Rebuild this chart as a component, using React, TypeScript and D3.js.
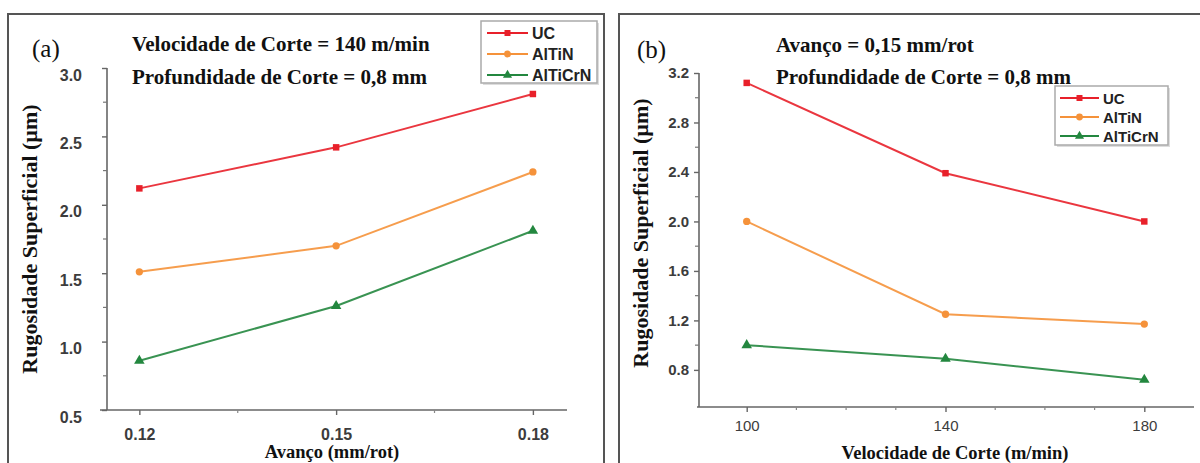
import React, { useEffect, useRef } from "react";
import * as d3 from "d3";

// ---- data ----
const feedRates = [0.12, 0.15, 0.18];
const cuttingSpeeds = [100, 140, 180];
const seriesNames = ["UC", "AlTiN", "AlTiCrN"];

// panel (a): roughness vs feed
const ucA = [2.12, 2.42, 2.81];
const altinA = [1.51, 1.7, 2.24];
const alticrnA = [0.86, 1.26, 1.81];

// panel (b): roughness vs cutting speed
const ucB = [3.12, 2.39, 2.0];
const altinB = [2.0, 1.25, 1.17];
const alticrnB = [1.0, 0.89, 0.72];

const yTicksA = [0.5, 1.0, 1.5, 2.0, 2.5, 3.0];
const yMinorA = [0.75, 1.25, 1.75, 2.25, 2.75];
const xTicksA = [0.12, 0.15, 0.18];
const xMinorA = [0.135, 0.165];

const yTicksB = [0.8, 1.2, 1.6, 2.0, 2.4, 2.8, 3.2];
const yMinorB = [1.0, 1.4, 1.8, 2.2, 2.6, 3.0];
const xTicksB = [100, 140, 180];
const xMinorB = [110, 120, 130, 150, 160, 170];

const colors = ["#e8202a", "#f5923a", "#23873f"];
const markers = [d3.symbolSquare, d3.symbolCircle, d3.symbolTriangle];

const serif = "'Liberation Serif', 'Times New Roman', serif";
const sans = "'Liberation Sans', Arial, sans-serif";

function drawPanel(svg, p) {
  const x = d3.scaleLinear().domain(p.xDomain).range(p.xRange);
  const y = d3.scaleLinear().domain(p.yDomain).range(p.yRange);

  // frame
  svg.append("rect")
    .attr("x", p.frame[0]).attr("y", p.frame[1])
    .attr("width", p.frame[2]).attr("height", p.frame[3])
    .attr("fill", "#fff").attr("stroke", "#555").attr("stroke-width", 2);

  const g = svg.append("g");

  // y axis
  const yAx = g.append("g")
    .attr("transform", `translate(${p.yAxisX},0)`)
    .call(d3.axisLeft(y).tickValues(p.yTicks).tickSize(5).tickPadding(p.yPad)
      .tickFormat(d3.format(".1f")).tickSizeOuter(0));
  yAx.select("path.domain").attr("stroke", "#666").attr("stroke-width", 1.6)
    .attr("d", `M0,${y(p.yTicks[p.yTicks.length - 1])}V${p.yRange[0]}`);
  yAx.selectAll(".tick line").attr("stroke", "#666").attr("stroke-width", 1.4);
  yAx.selectAll(".tick text")
    .attr("font-family", sans).attr("font-weight", "bold")
    .attr("font-size", p.tickFont).attr("fill", "#3c3c3c")
    .attr("dy", p.yLabelDy);
  g.append("g")
    .attr("transform", `translate(${p.yAxisX},0)`)
    .selectAll("line").data(p.yMinor).join("line")
    .attr("x1", -4).attr("x2", 0)
    .attr("y1", d => y(d)).attr("y2", d => y(d))
    .attr("stroke", "#777").attr("stroke-width", 1.2);

  // x axis
  const xAx = g.append("g")
    .attr("transform", `translate(0,${p.yRange[0]})`)
    .call(d3.axisBottom(x).tickValues(p.xTicks).tickSize(5).tickPadding(p.xPad)
      .tickFormat(p.xFormat).tickSizeOuter(0));
  xAx.select("path.domain").attr("stroke", "#666").attr("stroke-width", 1.6)
    .attr("d", `M${p.xAxisStart},0H${p.xAxisEnd}`);
  xAx.selectAll(".tick line").attr("stroke", "#666").attr("stroke-width", 1.4);
  xAx.selectAll(".tick text")
    .attr("font-family", sans).attr("font-weight", p.xTickWeight)
    .attr("font-size", p.tickFont).attr("fill", "#3c3c3c");
  g.append("g")
    .attr("transform", `translate(0,${p.yRange[0]})`)
    .selectAll("line").data(p.xMinor).join("line")
    .attr("x1", d => x(d)).attr("x2", d => x(d))
    .attr("y1", 0).attr("y2", 3)
    .attr("stroke", "#888").attr("stroke-width", 1.2);

  // series
  const line = d3.line().x(d => x(d[0])).y(d => y(d[1]));
  p.series.forEach((vals, i) => {
    const pts = p.xVals.map((v, j) => [v, vals[j]]);
    g.append("path").attr("d", line(pts))
      .attr("fill", "none").attr("stroke", colors[i]).attr("stroke-width", 2)
      .attr("stroke-opacity", 0.9);
    g.selectAll(null).data(pts).join("path")
      .attr("transform", d => `translate(${x(d[0])},${y(d[1])})`)
      .attr("d", d3.symbol(markers[i], i === 2 ? 48 : 42)())
      .attr("fill", colors[i]);
  });

  // panel label and annotations
  svg.append("text").attr("x", p.tag[0]).attr("y", p.tag[1])
    .attr("font-family", serif).attr("font-size", 25).attr("fill", "#111")
    .text(p.tagText);
  p.notes.forEach((t, i) => {
    svg.append("text").attr("x", p.noteX).attr("y", p.noteY[i])
      .attr("font-family", serif).attr("font-weight", "bold")
      .attr("font-size", 21).attr("fill", "#111").text(t);
  });

  // axis titles
  svg.append("text")
    .attr("transform", `translate(${p.yTitle[0]},${p.yTitle[1]}) rotate(-90)`)
    .attr("text-anchor", "middle").attr("dominant-baseline", "central")
    .attr("font-family", serif).attr("font-weight", "bold")
    .attr("font-size", 22).attr("fill", "#111")
    .text("Rugosidade Superficial (µm)");
  svg.append("text")
    .attr("x", p.xTitle[0]).attr("y", p.xTitle[1])
    .attr("text-anchor", "middle").attr("dominant-baseline", "central")
    .attr("font-family", serif).attr("font-weight", "bold")
    .attr("font-size", p.xTitleFont).attr("fill", "#111")
    .text(p.xTitleText);

  // legend
  const lg = svg.append("g").attr("transform", `translate(${p.legend[0]},${p.legend[1]})`);
  lg.append("rect").attr("x", 2).attr("y", 2)
    .attr("width", p.legend[2]).attr("height", p.legend[3])
    .attr("fill", "#ddd");
  lg.append("rect").attr("width", p.legend[2]).attr("height", p.legend[3])
    .attr("fill", "#fff").attr("stroke", "#aaa").attr("stroke-width", 1.5);
  seriesNames.forEach((name, i) => {
    const ly = p.legendRow0 + i * p.legendStep;
    lg.append("line").attr("x1", p.legendLine[0]).attr("x2", p.legendLine[1])
      .attr("y1", ly).attr("y2", ly)
      .attr("stroke", colors[i]).attr("stroke-width", 2.2);
    lg.append("path")
      .attr("transform", `translate(${(p.legendLine[0] + p.legendLine[1]) / 2},${ly})`)
      .attr("d", d3.symbol(markers[i], 36)()).attr("fill", colors[i]);
    lg.append("text").attr("x", p.legendLine[1] + 4).attr("y", ly)
      .attr("dominant-baseline", "central")
      .attr("font-family", sans).attr("font-weight", "bold")
      .attr("font-size", p.legendFont).attr("fill", "#222").text(name);
  });
}

export default function App() {
  const ref = useRef(null);

  useEffect(() => {
    const svg = d3.select(ref.current);
    svg.selectAll("*").remove();

    drawPanel(svg, {
      frame: [8, 14, 596, 470],
      xDomain: [0.114, 0.1852], xRange: [100, 567],
      yDomain: [0.5, 3.0], yRange: [410, 68],
      yAxisX: 107, xAxisStart: 100, xAxisEnd: 567,
      yTicks: yTicksA, yMinor: yMinorA, xTicks: xTicksA, xMinor: xMinorA,
      yPad: 20, yLabelDy: "0.75em", xPad: 14, xTickWeight: "bold",
      xFormat: d3.format(".2f"), tickFont: 16,
      xVals: feedRates, series: [ucA, altinA, alticrnA],
      tag: [32, 57], tagText: "(a)",
      noteX: 132, noteY: [51, 84],
      notes: ["Velocidade de Corte = 140 m/min", "Profundidade de Corte = 0,8 mm"],
      yTitle: [29, 239], xTitle: [332, 452], xTitleFont: 18.5,
      xTitleText: "Avanço (mm/rot)",
      legend: [481, 21, 116, 62], legendRow0: 12, legendStep: 21,
      legendLine: [6, 47], legendFont: 16,
    });

    drawPanel(svg, {
      frame: [619, 14, 600, 470],
      xDomain: [90, 190], xRange: [697, 1194],
      yDomain: [0.5, 3.2], yRange: [407, 73],
      yAxisX: 699, xAxisStart: 697, xAxisEnd: 1194,
      yTicks: yTicksB, yMinor: yMinorB, xTicks: xTicksB, xMinor: xMinorB,
      yPad: 5, yLabelDy: "0.32em", xPad: 8, xTickWeight: "normal",
      xFormat: d3.format("d"), tickFont: 15,
      xVals: cuttingSpeeds, series: [ucB, altinB, alticrnB],
      tag: [637, 58], tagText: "(b)",
      noteX: 776, noteY: [52, 84],
      notes: ["Avanço = 0,15 mm/rot", "Profundidade de Corte = 0,8 mm"],
      yTitle: [640, 233], xTitle: [955, 453], xTitleFont: 18.5,
      xTitleText: "Velocidade de Corte (m/min)",
      legend: [1055, 86, 113, 59], legendRow0: 12, legendStep: 19,
      legendLine: [5, 44], legendFont: 15,
    });
  }, []);

  return (
    <svg ref={ref} width={1200} height={463}
      style={{ position: "absolute", left: 0, top: 0, background: "#fff" }} />
  );
}
